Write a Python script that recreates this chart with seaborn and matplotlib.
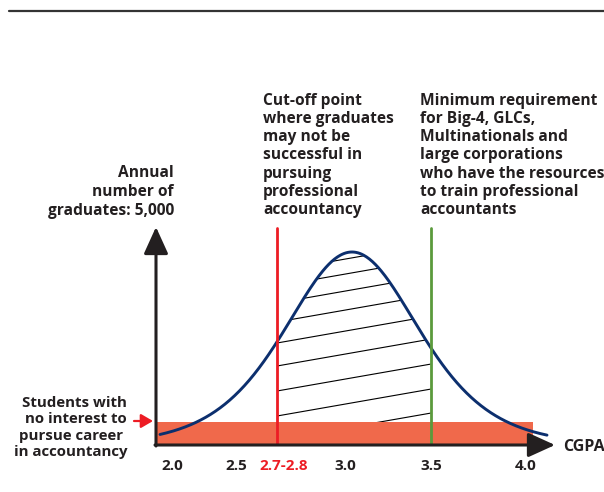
import numpy as np
import pandas as pd
import matplotlib.pyplot as plt
from matplotlib.patches import Polygon
from matplotlib.lines import Line2D
import seaborn as sns

sns.set_style("white")
plt.rcParams['font.family'] = ['Open Sans', 'DejaVu Sans']

# Schematic CGPA axis: positions in drawing units (axis origin = 0)
tick_positions = [16, 80, 128, 189, 275, 370]
tick_labels = ["2.0", "2.5", "2.7-2.8", "3.0", "3.5", "4.0"]
cutoff_position = 121        # 2.7-2.8 cut-off
requirement_position = 275   # 3.5 minimum requirement

# Students with no interest band
band_end = 377
band_height = 23

# Bell curve of graduates (schematic)
curve_start, curve_end = 4, 391
curve_centre = 196
curve_peak = 193
curve_spread = 90

# Hatch lines in the shaded area (height at the cut-off line)
hatch_offsets = [5, 29, 54, 79, 102, 123, 142, 159, 174]
hatch_slope = 0.175

TEXT = "#231f20"
RED = "#ed1c24"
GREEN = "#5b9a3c"
NAVY = "#0c2f6e"
ORANGE = "#f0694b"

curve = pd.DataFrame({"x": np.linspace(curve_start, curve_end, 400)})
curve["y"] = curve_peak / np.cosh((curve["x"] - curve_centre) / curve_spread) ** 2

fig = plt.figure(figsize=(6.04, 4.92), dpi=100)
ax = fig.add_axes([156 / 604, 47 / 492, 399 / 604, 218 / 492])
ax.set_xlim(0, 399)
ax.set_ylim(0, 218)
for s in ax.spines.values():
    s.set_visible(False)

# Hatched area between the two cut-off lines, under the curve
inside = curve[(curve["x"] >= cutoff_position) & (curve["x"] <= requirement_position)]
xs = np.r_[cutoff_position, inside["x"], requirement_position]
ys = np.r_[0, inside["y"], 0]
clip = Polygon(np.column_stack([xs, ys]), closed=True, transform=ax.transData,
               facecolor="none", edgecolor="none")
ax.add_patch(clip)
hx = np.array([cutoff_position, requirement_position])
for c in hatch_offsets:
    ln, = ax.plot(hx, c + hatch_slope * (hx - cutoff_position), color="black",
                  lw=0.8, zorder=1)
    ln.set_clip_path(clip)

# No-interest band
ax.fill_between([0, band_end], 0, band_height, color=ORANGE, lw=0, zorder=2)

# Curve
sns.lineplot(data=curve, x="x", y="y", color=NAVY, lw=2.1, ax=ax, zorder=3)

# Cut-off lines
ax.plot([cutoff_position] * 2, [0, 217], color=RED, lw=2.0, zorder=4)
ax.plot([requirement_position] * 2, [0, 217], color=GREEN, lw=2.0, zorder=4)

# Axes with arrowheads
arrow = dict(arrowstyle="-|>,head_length=1.1,head_width=0.5", mutation_scale=15,
             color=TEXT, lw=2.2, shrinkA=0, shrinkB=0)
ax.annotate("", xy=(399, 0), xytext=(-1, 0), arrowprops=arrow, zorder=5)
ax.annotate("", xy=(0, 218), xytext=(0, -1), arrowprops=arrow, zorder=5)

# Tick labels
ax.set_xticks(tick_positions, tick_labels)
ax.set_yticks([])
ax.tick_params(axis="x", length=0, pad=10, labelsize=11, labelcolor=TEXT)
for lab in ax.get_xticklabels():
    lab.set_fontweight("bold")
ax.get_xticklabels()[2].set_color(RED)
ax.set_xlabel("")
ax.set_ylabel("")

fs = 11.2
ax.text(407, -2, "CGPA", ha="left", va="center", fontsize=11.5, fontweight="bold",
        color=TEXT)
ax.text(18, 253, "Annual\nnumber of\ngraduates: 5,000", ha="right", va="center",
        multialignment="right", fontsize=fs, fontweight="bold", color=TEXT,
        linespacing=1.24)
ax.text(107, 289.5, "Cut-off point\nwhere graduates\nmay not be\nsuccessful in\n"
        "pursuing\nprofessional\naccountancy", ha="left", va="center",
        fontsize=fs, fontweight="bold", color=TEXT, linespacing=1.17)
ax.text(264, 289.5, "Minimum requirement\nfor Big-4, GLCs,\nMultinationals and\n"
        "large corporations\nwho have the resources\nto train professional\n"
        "accountants", ha="left", va="center", fontsize=fs, fontweight="bold",
        color=TEXT, linespacing=1.17)
ax.text(-29, 17.5, "Students with\nno interest to\npursue career \nin accountancy",
        ha="right", va="center", multialignment="right", fontsize=10.8,
        fontweight="bold", color=TEXT, linespacing=1.23)
ax.annotate("", xy=(-3, 24), xytext=(-22, 24),
            arrowprops=dict(arrowstyle="-|>,head_length=0.6,head_width=0.35",
                            mutation_scale=12, color=RED, lw=1.6,
                            shrinkA=0, shrinkB=0), annotation_clip=False)

# Top rule
fig.add_artist(Line2D([9 / 604, 1], [481 / 492, 481 / 492], color="#333333", lw=1.6))

fig.savefig("out.png", dpi=100)
